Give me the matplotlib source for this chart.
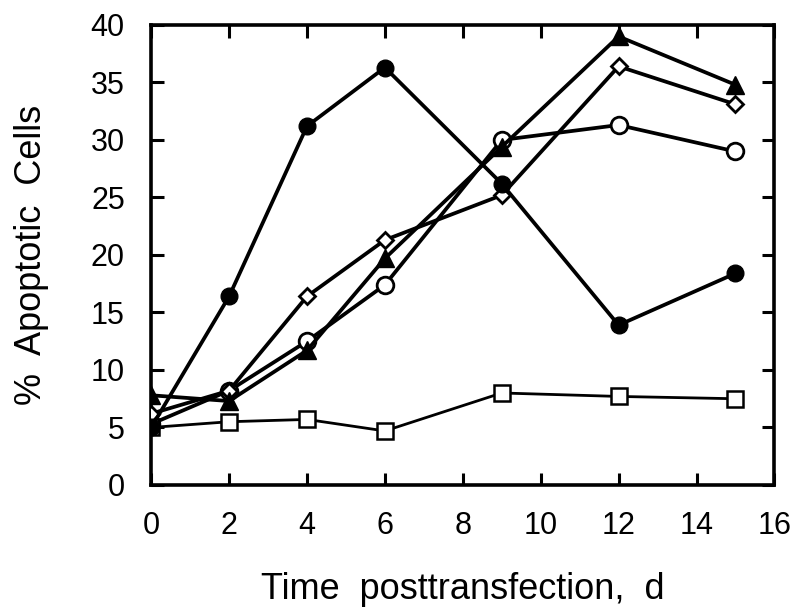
import matplotlib
matplotlib.use("Agg")
import matplotlib.pyplot as plt

plt.rcParams['font.family'] = ['Liberation Sans', 'DejaVu Sans']

days = [0, 2, 4, 6, 9, 12, 15]
filled_circle = [5.0, 16.4, 31.2, 36.3, 26.2, 13.9, 18.4]
open_circle = [5.3, 8.2, 12.5, 17.4, 30.0, 31.3, 29.0]
filled_triangle = [7.8, 7.3, 11.7, 19.7, 29.4, 39.0, 34.8]
open_diamond = [6.2, 8.2, 16.4, 21.3, 25.2, 36.4, 33.1]
open_square = [5.0, 5.5, 5.7, 4.7, 8.0, 7.7, 7.5]

fig = plt.figure(figsize=(8, 6.15), dpi=100)
ax = fig.add_axes([0.189, 0.2114, 0.779, 0.748])

lw = 2.7
ax.plot(days, open_square, color='black', lw=2.0, marker='s', ms=11,
        mfc='white', mec='black', mew=1.8, zorder=3)
ax.plot(days, open_circle, color='black', lw=lw, marker='o', ms=12,
        mfc='white', mec='black', mew=2.0, zorder=4)
ax.plot(days, open_diamond, color='black', lw=lw, marker='D', ms=8.5,
        mfc='white', mec='black', mew=2.0, zorder=5)
ax.plot(days, filled_triangle, color='black', lw=lw, marker='^', ms=13,
        mfc='black', mec='black', zorder=6)
ax.plot(days, filled_circle, color='black', lw=lw, marker='o', ms=12,
        mfc='black', mec='black', zorder=7)

ax.set_xlim(0, 16)
ax.set_ylim(0, 40)
ax.set_xticks(range(0, 17, 2))
ax.set_yticks(range(0, 41, 5))
ax.tick_params(direction='in', length=9, width=2.2, labelsize=22,
               top=True, right=True, pad=19)
for s in ax.spines.values():
    s.set_linewidth(2.6)

ax.set_xlabel('Time  posttransfection,  d', fontsize=26, labelpad=22)
ax.set_ylabel('%  Apoptotic  Cells', fontsize=26, labelpad=30)

fig.savefig('out.png', dpi=100)
